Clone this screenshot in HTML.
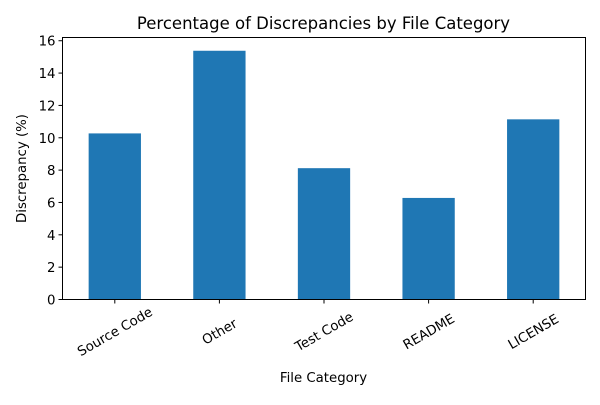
<!DOCTYPE html>
<html><head><meta charset="utf-8"><style>
body{margin:0;background:#fff;}
text{font-family:"DejaVu Sans","Liberation Sans",sans-serif;fill:#000;}
</style></head><body>
<svg id="chart" width="600" height="400" xmlns="http://www.w3.org/2000/svg">
<text x="323.5" y="29" font-size="16.5" text-anchor="middle">Percentage of Discrepancies by File Category</text>
<text x="323.5" y="382" font-size="13.3" text-anchor="middle">File Category</text>
<text transform="translate(26,168.5) rotate(-90)" font-size="13.3" text-anchor="middle">Discrepancy (%)</text>
<g id="bars"></g><g id="yticks"></g><g id="xticks"></g>
<rect x="62.5" y="37.5" width="523" height="262" fill="none" stroke="#000" stroke-width="1"/>
</svg>
<script>
const categories=["Source Code","Other","Test Code","README","LICENSE"];
const values=[10.27,15.38,8.12,6.28,11.14];
const yTicks=[0,2,4,6,8,10,12,14,16];
const L=62.5,R=585.5,T=37.5,B=299.5,ymax=16.2;
const NS="http://www.w3.org/2000/svg";
function y(v){return B-(v/ymax)*(B-T);}
const step=(R-L)/categories.length;
function xc(i){return L+step*(i+0.5);}
const bars=document.getElementById('bars'),yt=document.getElementById('yticks'),xt=document.getElementById('xticks');
categories.forEach((c,i)=>{
 const r=document.createElementNS(NS,'rect');
 r.setAttribute('x',xc(i)-step*0.25);r.setAttribute('width',step*0.5);
 r.setAttribute('y',y(values[i]));r.setAttribute('height',B-y(values[i]));
 r.setAttribute('fill','#1f77b4');
 
 
 bars.appendChild(r);
 const l=document.createElementNS(NS,'line');
 l.setAttribute('x1',xc(i));l.setAttribute('x2',xc(i));l.setAttribute('y1',B);l.setAttribute('y2',B+4);l.setAttribute('stroke','#000');
 
 
 xt.appendChild(l);
 const t=document.createElementNS(NS,'text');
 t.setAttribute('font-size','13.3');t.setAttribute('text-anchor','middle');
 t.setAttribute('dy','0.35em');
 t.setAttribute('transform','translate('+xc(i)+','+(B+32)+') rotate(-30)');
 t.textContent=c;
 
 
 xt.appendChild(t);
});
yTicks.forEach(v=>{
 const l=document.createElementNS(NS,'line');
 l.setAttribute('x1',L-4);l.setAttribute('x2',L);l.setAttribute('y1',y(v));l.setAttribute('y2',y(v));l.setAttribute('stroke','#000');
 
 
 yt.appendChild(l);
 const t=document.createElementNS(NS,'text');
 t.setAttribute('x',L-7);t.setAttribute('y',y(v)+5);t.setAttribute('font-size','13.3');t.setAttribute('text-anchor','end');
 t.textContent=v;
 
 
 yt.appendChild(t);
});
</script>
</body></html>
